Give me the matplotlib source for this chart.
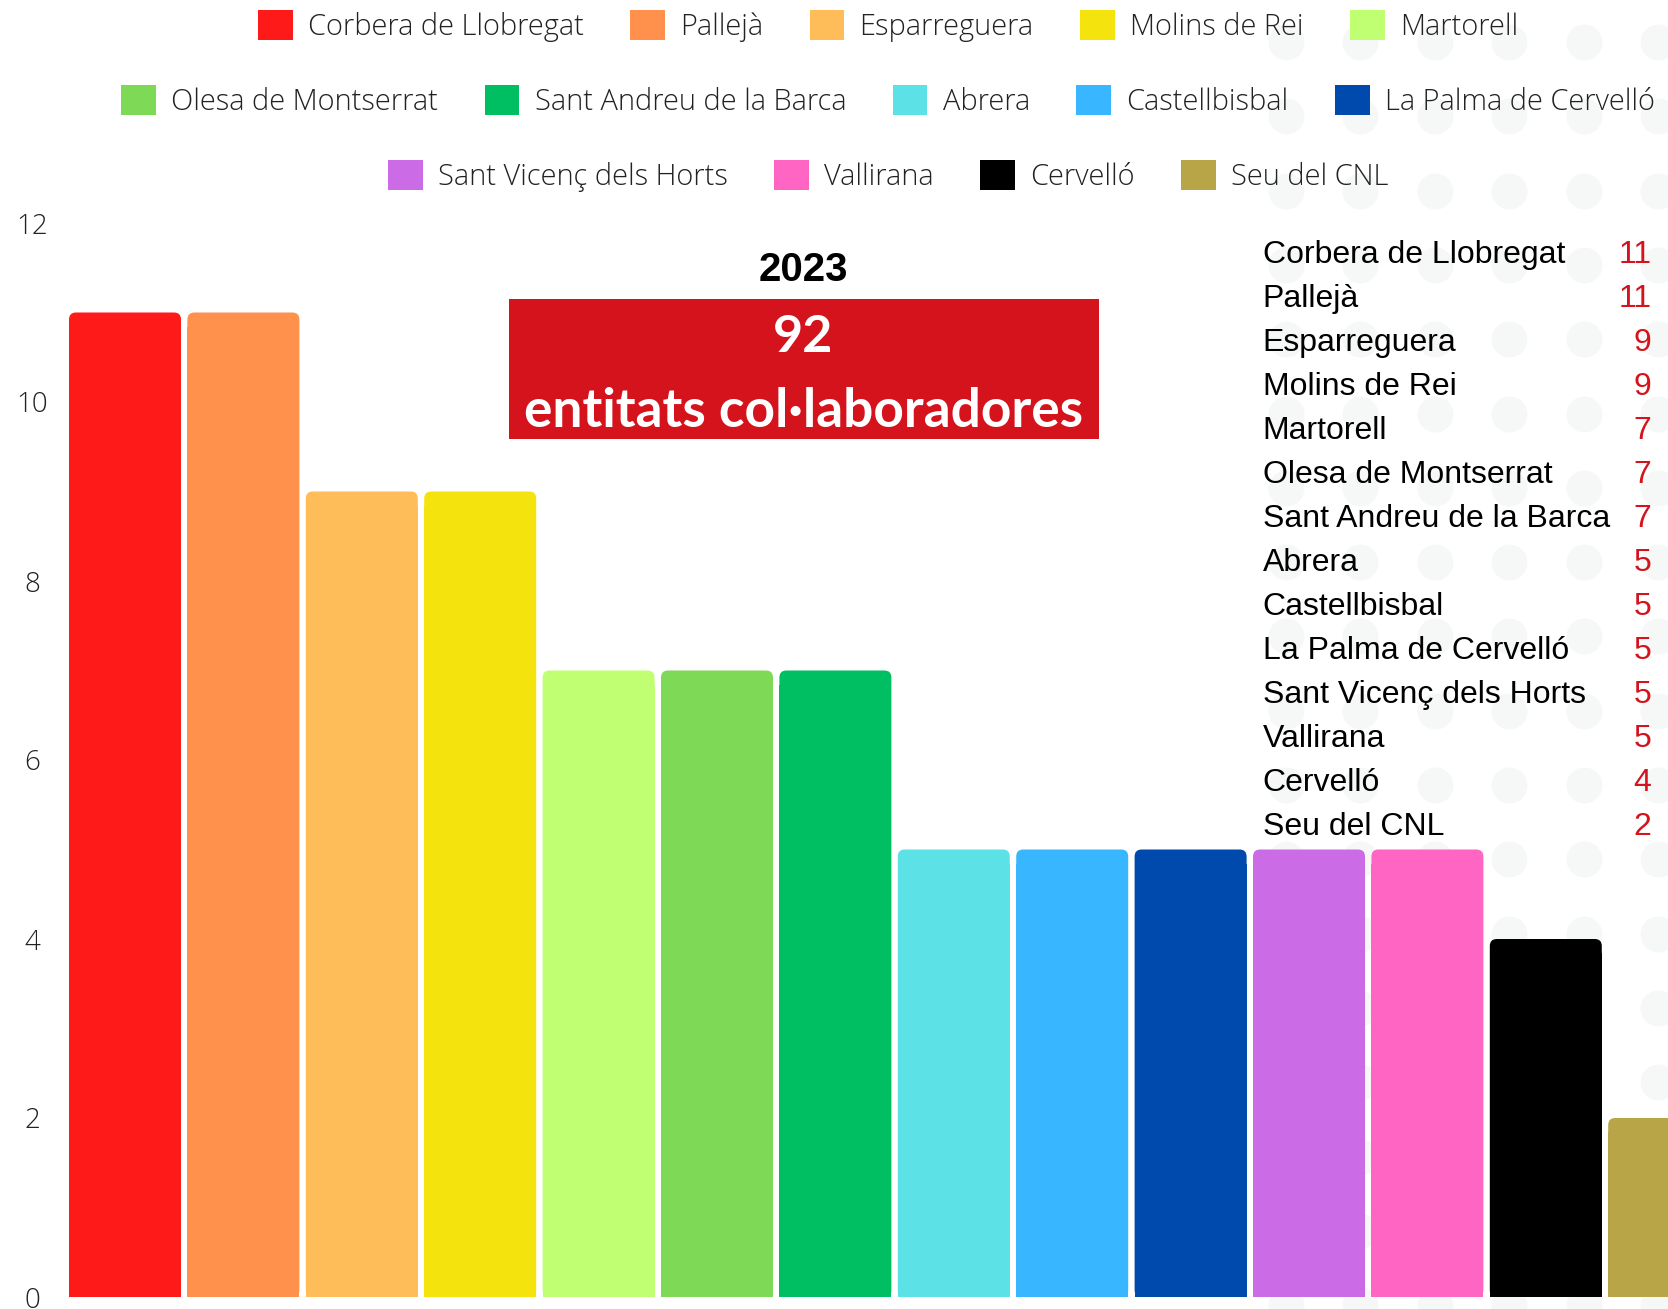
import matplotlib

matplotlib.use("Agg")

import matplotlib.pyplot as plt
import numpy as np
from matplotlib.patches import FancyBboxPatch, Patch, Rectangle

# --- figure geometry (pixels, dpi 100) ---
W, H, DPI = 1668, 1309, 100

# --- data ---
MUNICIPALITIES = [
    "Corbera de Llobregat", "Pallejà", "Esparreguera", "Molins de Rei", "Martorell",
    "Olesa de Montserrat", "Sant Andreu de la Barca", "Abrera", "Castellbisbal",
    "La Palma de Cervelló", "Sant Vicenç dels Horts", "Vallirana", "Cervelló", "Seu del CNL",
]
ENTITIES = [11, 11, 9, 9, 7, 7, 7, 5, 5, 5, 5, 5, 4, 2]
COLORS = [
    "#ff1a1a", "#ff914d", "#ffbd59", "#f4e30c", "#c1ff72",
    "#7ed957", "#00bf63", "#5ce1e6", "#38b6ff", "#004aad",
    "#cb6ce6", "#ff66c4", "#000000", "#b7a548",
]
Y_TICKS = [0, 2, 4, 6, 8, 10, 12]
LEGEND_ROWS = [5, 5, 4]
YEAR = "2023"
TOTAL = sum(ENTITIES)
TOTAL_LABEL = "entitats col·laboradores"

RED = "#d4131d"
LIGHT_FONT = "Open Sans"
LIST_FONT = "Liberation Sans"


def fx(px):
    return px / W


def fy(py):
    return 1 - py / H


def draw_background(fig):
    bg = fig.add_axes([0, 0, 1, 1], zorder=0)
    bg.set_xlim(0, W)
    bg.set_ylim(H, 0)
    bg.axis("off")
    cols = 1286 + 74.5 * np.arange(6)
    rows = 42 + 74.3 * np.arange(18)
    gx, gy = np.meshgrid(cols, rows)
    size_pt = 36 * 72 / DPI
    bg.scatter(gx.ravel(), gy.ravel(), s=size_pt ** 2, color="#f6f8f7", linewidths=0)
    # red total box
    bg.add_patch(Rectangle((509, 299), 590, 140, facecolor=RED, edgecolor="none"))
    return bg


def draw_bars(fig):
    left, right, bottom, top = 60, W, 1297, 223
    pitch, first_center = 118.4, 125
    ax = fig.add_axes([fx(left), fy(bottom), fx(right - left), (bottom - top) / H], zorder=1)
    ax.patch.set_visible(False)
    ax.set_xlim((left - first_center) / pitch, (right - first_center) / pitch)
    ax.set_ylim(0, 12)

    x = np.arange(len(ENTITIES))
    bars = ax.bar(x, ENTITIES, width=112 / pitch, color=COLORS, linewidth=0)

    # rounded top corners: square lower body + rounded full-height box
    rx = 7 / pitch
    ry = 7 / 89.5
    for bar, color in zip(bars, COLORS):
        x0, w, h = bar.get_x(), bar.get_width(), bar.get_height()
        bar.set_height(h - 2 * ry)
        ax.add_patch(FancyBboxPatch(
            (x0, 0), w, h,
            boxstyle=f"round,pad=0,rounding_size={rx}",
            mutation_aspect=ry / rx,
            facecolor=color, edgecolor="none",
        ))

    ax.set_xticks([])
    ax.set_yticks(Y_TICKS)
    ax.set_yticklabels([str(t) for t in Y_TICKS])
    ax.tick_params(axis="y", length=0, pad=20, labelsize=20, labelcolor="#222222")
    for lbl in ax.get_yticklabels():
        lbl.set_horizontalalignment("center")
        lbl.set_fontfamily(LIGHT_FONT)
        lbl.set_fontweight("light")
    for spine in ax.spines.values():
        spine.set_visible(False)
    return ax


def draw_legend(fig):
    handles = [Patch(facecolor=c, edgecolor="none", label=m) for m, c in zip(MUNICIPALITIES, COLORS)]
    row_y = [25.8, 101, 176.3]
    start = 0
    for n, y in zip(LEGEND_ROWS, row_y):
        leg = fig.legend(
            handles=handles[start:start + n], loc="center", ncol=n,
            bbox_to_anchor=(fx(888), fy(y)), frameon=False,
            prop={"family": LIGHT_FONT, "weight": "light", "size": 20.9},
            handlelength=1.2, handleheight=1.2, handletextpad=0.52,
            columnspacing=1.6, borderpad=0, borderaxespad=0,
        )
        for t in leg.get_texts():
            t.set_color("#222222")
        start += n


def draw_panel(fig):
    fig.text(fx(803.5), fy(281), YEAR, ha="center", va="baseline",
             family=LIST_FONT, weight="bold", size=29, color="black")
    fig.text(fx(803.5), fy(351.7), str(TOTAL), ha="center", va="baseline",
             family="Lato", weight="bold", size=37.5, color="white")
    fig.text(fx(803.5), fy(427), TOTAL_LABEL, ha="center", va="baseline",
             family="Lato", weight="bold", size=38.3, color="white")

    for i, (name, val) in enumerate(zip(MUNICIPALITIES, ENTITIES)):
        base = 262.7 + 44.0 * i
        fig.text(fx(1262.7), fy(base), name, ha="left", va="baseline",
                 family=LIST_FONT, size=23, color="black")
        fig.text(fx(1651.5), fy(base), str(val), ha="right", va="baseline",
                 family=LIST_FONT, size=23, color=RED)


def main():
    fig = plt.figure(figsize=(W / DPI, H / DPI), dpi=DPI, facecolor="white")
    draw_background(fig)
    draw_bars(fig)
    draw_legend(fig)
    draw_panel(fig)
    fig.savefig("out.png", dpi=DPI, facecolor="white")
    plt.close(fig)


if __name__ == "__main__":
    main()
